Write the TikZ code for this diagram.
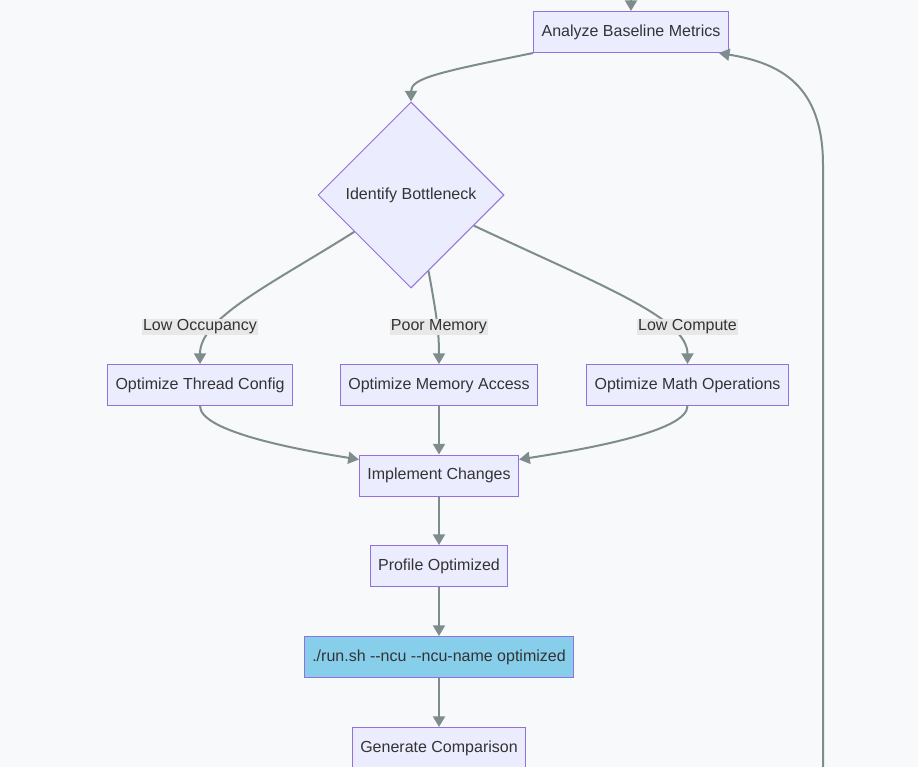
\documentclass[tikz,border=0pt]{standalone}
\usepackage{fontspec}
\setmainfont{Liberation Sans}
\usetikzlibrary{shapes.geometric,arrows.meta}

\definecolor{bgcol}{HTML}{F8F9FA}
\definecolor{boxfill}{HTML}{ECECFF}
\definecolor{boxline}{HTML}{9370DB}
\definecolor{runfill}{HTML}{87CEEB}
\definecolor{edgecol}{HTML}{7F8C8D}
\definecolor{labfill}{HTML}{E8E8E8}
\definecolor{txtcol}{HTML}{333333}

\tikzset{
	box/.style={draw=boxline, fill=boxfill, line width=0.75pt, text=txtcol, font=\fontsize{12}{14}\selectfont, inner xsep=6pt, minimum height=30.75pt},
	decision/.style={diamond, draw=boxline, fill=boxfill, line width=0.75pt, text=txtcol, font=\fontsize{12}{14}\selectfont, inner sep=0pt, minimum width=139.5pt, minimum height=139.5pt},
	lab/.style={fill=labfill, text=txtcol, font=\fontsize{12}{14}\selectfont, inner sep=0.75pt},
	flow/.style={draw=edgecol, line width=1.5pt, -{Triangle[length=8pt,width=9pt]}}
}

\begin{document}
\begin{tikzpicture}[x=0.75pt, y=-0.75pt]
	\fill[bgcol] (0,0) rectangle (918,767);
	\useasboundingbox (0,0) rectangle (918,767);
	
	\node[box] (v1) at (631,32) {Analyze Baseline Metrics};
	\node[decision] (v2) at (411,195) {Identify Bottleneck};
	\node[box] (v3) at (200,385) {Optimize Thread Config};
	\node[box] (v4) at (439,385) {Optimize Memory Access};
	\node[box] (v5) at (687.5,385) {Optimize Math Operations};
	\node[box] (v6) at (439,475.5) {Implement Changes};
	\node[box] (v7) at (439,566) {Profile Optimized};
	\node[box, fill=runfill] (v8) at (439,657) {./run.sh -{}-ncu -{}-ncu-name optimized};
	\node[box] (v9) at (439,748) {Generate Comparison};
	
	\coordinate (c1) at (631,-5);
	\coordinate (c2) at (823,772);
	
	\draw[flow] (c1) -- (v1.north);
	\draw[flow] (v1.south west) .. controls (440,72) and (411,78) .. (v2.north);
	\draw[flow] (v2.213) .. controls (270,285) and (200,318) .. (v3.north);
	\draw[flow] (v2.283) .. controls (436,312) and (439,330) .. (v4.north);
	\draw[flow] (v2.334) .. controls (600,285) and (687.5,318) .. (v5.north);
	\draw[flow] (v3.south) .. controls (200,432) and (300,450) .. ([yshift=-3.75pt]v6.north west);
	\draw[flow] (v4.south) -- (v6.north);
	\draw[flow] (v5.south) .. controls (687.5,432) and (580,450) .. ([yshift=-3.75pt]v6.north east);
	\draw[flow] (v6.south) -- (v7.north);
	\draw[flow] (v7.south) -- (v8.north);
	\draw[flow] (v8.south) -- (v9.north);
	\draw[flow] (c2) -- (823,165) .. controls (823,85) and (780,63) .. ([xshift=-7.5pt]v1.south east);
	
	\node[lab] (l1) at (200,327) {Low Occupancy};
	\node[lab] (l2) at (439,327) {Poor Memory};
	\node[lab] (l3) at (687.5,327) {Low Compute};
\end{tikzpicture}
\end{document}
